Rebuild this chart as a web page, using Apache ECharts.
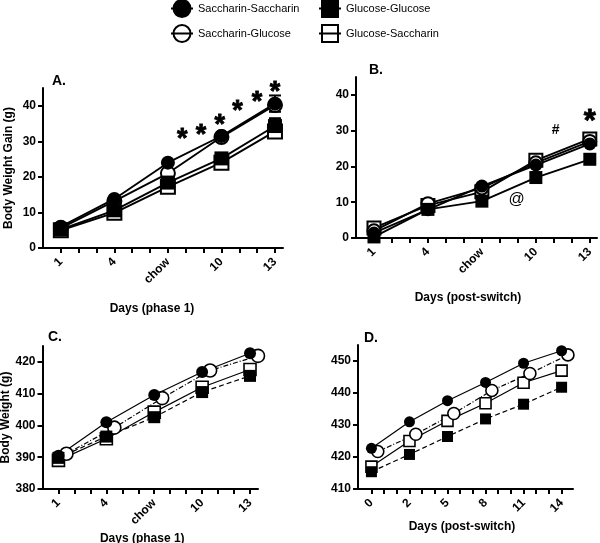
<!DOCTYPE html>
<html><head><meta charset="utf-8">
<script src="https://cdn.jsdelivr.net/npm/echarts@6/dist/echarts.min.js"></script>
<style>html,body{margin:0;padding:0;background:#fff}#c{width:600px;height:543px}</style>
</head><body><div id="c"></div>
<script>
// ---------- DATA ----------
const seriesNames = ['Saccharin-Saccharin', 'Saccharin-Glucose', 'Glucose-Glucose', 'Glucose-Saccharin'];

const daysPhase1 = [1, 4, 7, 10, 13];
const tickLabelsPhase1 = ['1', '4', 'chow', '10', '13'];
const daysPostB = [1, 4, 7, 10, 13];
const tickLabelsPostB = ['1', '4', 'chow', '10', '13'];
const posPostD = [0, 3, 6, 9, 12, 15];
const tickLabelsPostD = ['0', '2', '5', '8', '11', '14'];

const yTicksGain = [0, 10, 20, 30, 40];
const yTicksC = [380, 390, 400, 410, 420];
const yTicksD = [410, 420, 430, 440, 450];

// Panel A: body weight gain (g), phase 1
const gainA_SS = [6.0, 13.8, 24.0, 31.5, 40.6];
const gainA_SG = [5.6, 13.2, 21.0, 31.2, 40.2];
const gainA_GG = [5.2, 10.6, 18.4, 25.2, 34.3];
const gainA_GS = [5.0, 9.9, 17.2, 24.0, 32.8];
const errA_SS = [0, 0, 0, 0, 2.3];
const errA_GG = [0, 0, 0, 0, 2.2];

// Panel B: body weight gain (g), post-switch
const gainB_SS = [1.4, 7.9, 14.5, 20.4, 26.3];
const gainB_SG = [2.0, 9.6, 14.0, 21.0, 27.0];
const gainB_GG = [0.3, 8.0, 10.3, 16.9, 22.0];
const gainB_GS = [2.8, 9.1, 12.9, 21.7, 27.7];

// Panel C: body weight (g), phase 1
const bwC_SS = [390.5, 401.0, 409.6, 416.8, 422.7];
const bwC_SG = [391.1, 399.3, 408.6, 417.3, 421.9];
const bwC_GG = [389.8, 396.5, 402.6, 410.5, 415.6];
const bwC_GS = [389.0, 395.8, 404.2, 412.0, 417.6];

// Panel D: body weight (g), post-switch
const bwD_SS = [422.7, 431.0, 437.6, 443.3, 449.3, 453.2];
const bwD_SG = [421.7, 427.1, 433.6, 440.8, 446.1, 451.9];
const bwD_GG = [415.4, 420.8, 426.4, 431.9, 436.5, 441.8];
const bwD_GS = [417.0, 425.0, 431.3, 436.8, 443.2, 447.0];

// Significance annotations
const annotA_x = [7.8, 8.85, 9.9, 10.9, 12.0, 13.0];
const annotA_y = [32.2, 33.4, 36.0, 40.0, 42.6, 45.4];
const annotA_text = ['*', '*', '*', '*', '*', '*'];
const annotB_x = [8.93, 11.1, 13.0];
const annotB_y = [10.65, 30.2, 34.2];
const annotB_text = ['@', '#', '*'];

// ---------- STYLE ----------
const FONT = "'Liberation Sans', Arial, Helvetica, sans-serif";
const NUDGE = 0.5; // horizontal nudge of the open-circle series in panels C and D

const iconFilledCircle = 'path://M1.5,10 A9.5,9.5 0 1,1 20.5,10 A9.5,9.5 0 1,1 1.5,10 Z M0,9 H22 V11 H0 Z';
const iconOpenCircle = 'path://M1.5,10 A9.5,9.5 0 1,1 20.5,10 A9.5,9.5 0 1,1 1.5,10 Z M3.5,10 A7.5,7.5 0 1,0 18.5,10 A7.5,7.5 0 1,0 3.5,10 Z M0,9 H22 V11 H0 Z';
const iconFilledSquare = 'path://M2,0.5 H20 V19.5 H2 Z M0,9 H22 V11 H0 Z';
const iconOpenSquare = 'path://M2,0.5 H20 V19.5 H2 Z M4,2.5 V17.5 H18 V2.5 Z M0,9 H22 V11 H0 Z';

const groupStyle = {
  'Saccharin-Saccharin': {symbol: 'circle', open: false, dashCD: 'solid'},
  'Saccharin-Glucose': {symbol: 'circle', open: true, dashCD: [5, 2, 1, 2]},
  'Glucose-Glucose': {symbol: 'rect', open: false, dashCD: [5, 3]},
  'Glucose-Saccharin': {symbol: 'rect', open: true, dashCD: 'solid'}
};
const drawOrder = ['Glucose-Saccharin', 'Saccharin-Glucose', 'Glucose-Glucose', 'Saccharin-Saccharin'];

function lineSeries(name, gi, xs, ys, panel) {
  const st = groupStyle[name];
  const big = panel === 'A' || panel === 'B';
  const size = panel === 'A' ? 14 : panel === 'B' ? 13 : panel === 'C' ? 12 : 11;
  const nudge = (!big && name === 'Saccharin-Glucose') ? NUDGE : 0;
  return {
    type: 'line', name: name, xAxisIndex: gi, yAxisIndex: gi,
    data: xs.map((x, i) => [x + nudge, ys[i]]),
    symbol: st.symbol,
    symbolSize: st.symbol === 'circle' && st.open && !big ? size + 1 : size,
    showAllSymbol: true,
    itemStyle: st.open ? {color: '#fff', borderColor: '#000', borderWidth: big ? 2 : 1.6}
                       : {color: '#000', borderColor: '#000', borderWidth: 0},
    lineStyle: {color: '#000', width: big ? 1.9 : 1.2, type: big ? 'solid' : st.dashCD},
    emphasis: {disabled: true},
    clip: false, animation: false, silent: true
  };
}

function errorSeries(gi, xs, ys, errs) {
  return {
    type: 'custom', xAxisIndex: gi, yAxisIndex: gi, silent: true, z: 1,
    data: xs.map((x, i) => [x, ys[i], errs[i]]).filter(d => d[2] > 0),
    renderItem: function (params, api) {
      const x = api.value(0), y = api.value(1), e = api.value(2);
      const top = api.coord([x, y + e]), bot = api.coord([x, y - e]);
      const w = 6;
      return {type: 'group', children: [
        {type: 'line', shape: {x1: top[0], y1: top[1], x2: bot[0], y2: bot[1]}, style: {stroke: '#000', lineWidth: 2}},
        {type: 'line', shape: {x1: top[0] - w, y1: top[1], x2: top[0] + w, y2: top[1]}, style: {stroke: '#000', lineWidth: 2}},
        {type: 'line', shape: {x1: bot[0] - w, y1: bot[1], x2: bot[0] + w, y2: bot[1]}, style: {stroke: '#000', lineWidth: 2}}
      ]};
    }
  };
}

function annotSeries(gi, xs, ys, texts) {
  return {
    type: 'scatter', xAxisIndex: gi, yAxisIndex: gi, silent: true, clip: false, z: 5,
    symbolSize: 0, itemStyle: {color: '#000', opacity: 1},
    emphasis: {disabled: true},
    data: xs.map((x, i) => {
      const t = texts[i];
      let lab;
      if (t === '*') lab = {fontSize: gi === 0 ? 27 : 31, fontWeight: 'bold', offset: [0, gi === 0 ? 6 : 7],
                            textBorderColor: '#000', textBorderWidth: 0.8};
      else if (t === '#') lab = {fontSize: 14, fontWeight: 'bold', offset: [0, 0]};
      else lab = {fontSize: 16, fontWeight: 'normal', offset: [0, 0]};
      return {value: [x, ys[i]], label: Object.assign({show: true, position: 'inside', formatter: t, color: '#000', opacity: 1, fontFamily: FONT}, lab)};
    })
  };
}

const axisLineStyle = {show: true, onZero: false, lineStyle: {color: '#000', width: 2}};
const tickStyle = {show: true, length: 5, lineStyle: {color: '#000', width: 2}};
const labelFont = {color: '#000', fontFamily: FONT, fontWeight: 'bold', fontSize: 12};
const nameFont = {color: '#000', fontFamily: FONT, fontWeight: 'bold', fontSize: 12};

function range(a, b) { const r = []; for (let i = a; i <= b; i++) r.push(i); return r; }

function xAxis(gi, min, max, ticks, labelPos, labelText, name, gap, shift) {
  return {
    type: 'value', gridIndex: gi, min: min, max: max,
    axisLine: axisLineStyle,
    axisTick: Object.assign({customValues: ticks}, tickStyle),
    axisLabel: Object.assign({customValues: labelPos, rotate: 45, margin: 12,
      formatter: v => labelText[labelPos.indexOf(v)]}, labelFont),
    splitLine: {show: false},
    name: name, nameLocation: 'middle', nameGap: gap,
    nameTextStyle: Object.assign({padding: [0, shift, 0, 0]}, nameFont)
  };
}
function yAxis(gi, min, max, ticks, name, gap) {
  return {
    type: 'value', gridIndex: gi, min: min, max: max,
    axisLine: axisLineStyle,
    axisTick: Object.assign({customValues: ticks}, tickStyle),
    axisLabel: Object.assign({customValues: ticks, margin: 7}, labelFont),
    splitLine: {show: false},
    name: name || '', nameLocation: 'middle', nameGap: gap || 0,
    nameTextStyle: nameFont
  };
}

const dataA = {'Saccharin-Saccharin': gainA_SS, 'Saccharin-Glucose': gainA_SG, 'Glucose-Glucose': gainA_GG, 'Glucose-Saccharin': gainA_GS};
const dataB = {'Saccharin-Saccharin': gainB_SS, 'Saccharin-Glucose': gainB_SG, 'Glucose-Glucose': gainB_GG, 'Glucose-Saccharin': gainB_GS};
const dataC = {'Saccharin-Saccharin': bwC_SS, 'Saccharin-Glucose': bwC_SG, 'Glucose-Glucose': bwC_GG, 'Glucose-Saccharin': bwC_GS};
const dataD = {'Saccharin-Saccharin': bwD_SS, 'Saccharin-Glucose': bwD_SG, 'Glucose-Glucose': bwD_GG, 'Glucose-Saccharin': bwD_GS};

const series = [];
series.push(errorSeries(0, daysPhase1, gainA_SS, errA_SS));
series.push(errorSeries(0, daysPhase1, gainA_GG, errA_GG));
drawOrder.forEach(n => series.push(lineSeries(n, 0, daysPhase1, dataA[n], 'A')));
drawOrder.forEach(n => series.push(lineSeries(n, 1, daysPostB, dataB[n], 'B')));
drawOrder.forEach(n => series.push(lineSeries(n, 2, daysPhase1, dataC[n], 'C')));
drawOrder.forEach(n => series.push(lineSeries(n, 3, posPostD, dataD[n], 'D')));
series.push(annotSeries(0, annotA_x, annotA_y, annotA_text));
series.push(annotSeries(1, annotB_x, annotB_y, annotB_text));

const legendText = {color: '#000', fontFamily: FONT, fontSize: 11};
const option = {
  backgroundColor: '#fff',
  animation: false,
  legend: [
    {orient: 'vertical', left: 166, top: -6, itemWidth: 22, itemHeight: 20, itemGap: 6, selectedMode: false,
     itemStyle: {color: '#000', borderWidth: 0}, textStyle: legendText,
     data: [{name: seriesNames[0], icon: iconFilledCircle}, {name: seriesNames[1], icon: iconOpenCircle}]},
    {orient: 'vertical', left: 314, top: -6, itemWidth: 22, itemHeight: 20, itemGap: 6, selectedMode: false,
     itemStyle: {color: '#000', borderWidth: 0}, textStyle: legendText,
     data: [{name: seriesNames[2], icon: iconFilledSquare}, {name: seriesNames[3], icon: iconOpenSquare}]}
  ],
  title: [
    {text: 'A.', left: 52, top: 74, textStyle: {fontFamily: FONT, fontWeight: 'bold', fontSize: 14, color: '#000'}, padding: 0},
    {text: 'B.', left: 369, top: 63, textStyle: {fontFamily: FONT, fontWeight: 'bold', fontSize: 14, color: '#000'}, padding: 0},
    {text: 'C.', left: 48, top: 330, textStyle: {fontFamily: FONT, fontWeight: 'bold', fontSize: 14, color: '#000'}, padding: 0},
    {text: 'D.', left: 364, top: 331, textStyle: {fontFamily: FONT, fontWeight: 'bold', fontSize: 14, color: '#000'}, padding: 0}
  ],
  grid: [
    {left: 43, top: 88, width: 240, height: 160, containLabel: false, outerBoundsMode: 'none'},
    {left: 356, top: 77, width: 241, height: 161, containLabel: false, outerBoundsMode: 'none'},
    {left: 42.5, top: 346, width: 215.5, height: 143, containLabel: false, outerBoundsMode: 'none'},
    {left: 358, top: 345, width: 215, height: 144, containLabel: false, outerBoundsMode: 'none'}
  ],
  xAxis: [
    xAxis(0, 0, 13.45, range(1, 13), daysPhase1, tickLabelsPhase1, 'Days (phase 1)', 55, 22),
    xAxis(1, 0, 13.4, range(1, 13), daysPostB, tickLabelsPostB, 'Days (post-switch)', 54, 17),
    xAxis(2, 0, 13.5, range(1, 13), daysPhase1, tickLabelsPhase1, 'Days (phase 1)', 44, 16),
    xAxis(3, -1.06, 15.9, range(0, 15), posPostD, tickLabelsPostD, 'Days (post-switch)', 32, 7)
  ],
  yAxis: [
    yAxis(0, 0, 45, yTicksGain, 'Body Weight Gain (g)', 28),
    yAxis(1, 0, 45, yTicksGain),
    yAxis(2, 380, 425, yTicksC, 'Body Weight (g)', 28),
    yAxis(3, 410, 455, yTicksD)
  ],
  series: series
};
const chart = echarts.init(document.getElementById('c'), null, {renderer: 'canvas'});
chart.setOption(option);
</script></body></html>
